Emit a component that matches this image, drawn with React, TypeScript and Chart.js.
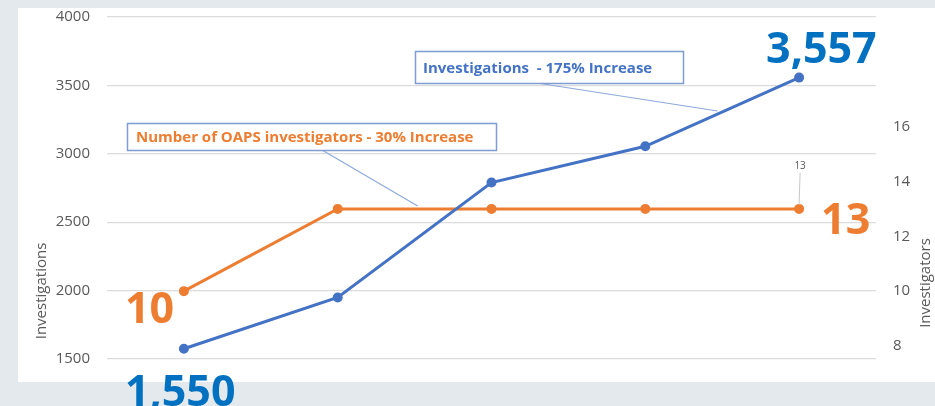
import React, { useEffect, useRef } from "react";
import { Chart, registerables } from "chart.js";

Chart.register(...registerables);

const categories = ["1", "2", "3", "4", "5"];
const investigations = [1575, 1950, 2790, 3055, 3557];
const investigators = [10, 13, 13, 13, 13];
const leftTicks = [1500, 2000, 2500, 3000, 3500, 4000];
const rightTicks = [8, 10, 12, 14, 16];
const investigationsFirstLabel = "1,550";
const investigationsLastLabel = "3,557";
const investigatorsFirstLabel = "10";
const investigatorsLastLabel = "13";
const investigationsCallout = "Investigations  - 175% Increase";
const investigatorsCallout = "Number of OAPS investigators - 30% Increase";
const leftTitle = "Investigations";
const rightTitle = "Investigators";

const BLUE = "#4472C4";
const ORANGE = "#ED7D31";
const BIG_BLUE = "#0070C0";
const GRAY_TEXT = "#595959";
const FONT = "'Open Sans', 'Noto Sans', sans-serif";

export default function App() {
  const ref = useRef<HTMLCanvasElement | null>(null);

  useEffect(() => {
    document.body.style.margin = "0";
    const canvas = ref.current;
    if (!canvas) return;

    const decor = {
      id: "decor",
      beforeDraw(chart: any) {
        const ctx = chart.ctx;
        ctx.save();
        ctx.fillStyle = "#e4e9ed";
        ctx.fillRect(0, 0, chart.width, chart.height);
        ctx.fillStyle = "#ffffff";
        ctx.fillRect(18, 8, chart.width - 18, 374);
        ctx.restore();
      },
      afterDraw(chart: any) {
        const ctx = chart.ctx;
        const x = chart.scales.x;
        const y = chart.scales.y;
        const y1 = chart.scales.y1;
        const n = categories.length - 1;
        ctx.save();

        // axis titles
        ctx.fillStyle = GRAY_TEXT;
        ctx.font = `15px ${FONT}`;
        ctx.textAlign = "center";
        ctx.textBaseline = "middle";
        ctx.save();
        ctx.translate(42, 291);
        ctx.rotate(-Math.PI / 2);
        ctx.fillText(leftTitle, 0, 0);
        ctx.restore();
        ctx.save();
        ctx.translate(926, 283);
        ctx.rotate(-Math.PI / 2);
        ctx.fillText(rightTitle, 0, 0);
        ctx.restore();

        // leader lines
        const bx = x.getPixelForValue(3) + (x.getPixelForValue(4) - x.getPixelForValue(3)) * 0.47;
        const by =
          y.getPixelForValue(investigations[3]) +
          (y.getPixelForValue(investigations[4]) - y.getPixelForValue(investigations[3])) * 0.47 - 3;
        ctx.strokeStyle = "#8ea9db";
        ctx.lineWidth = 1.2;
        ctx.beginPath();
        ctx.moveTo(537, 83);
        ctx.lineTo(bx, by);
        ctx.stroke();

        const ox = x.getPixelForValue(1) + (x.getPixelForValue(2) - x.getPixelForValue(1)) * 0.52;
        const oy = y1.getPixelForValue(investigators[1]) - 3;
        ctx.beginPath();
        ctx.moveTo(322, 150);
        ctx.lineTo(ox, oy);
        ctx.stroke();

        // callout boxes
        const box = (x0: number, y0: number, w: number, h: number, text: string, color: string, tx: number, size: number) => {
          ctx.fillStyle = "#ffffff";
          ctx.fillRect(x0, y0, w, h);
          ctx.strokeStyle = "#7f9bd0";
          ctx.lineWidth = 1.5;
          ctx.strokeRect(x0, y0, w, h);
          ctx.fillStyle = color;
          ctx.font = `bold ${size}px ${FONT}`;
          ctx.textAlign = "left";
          ctx.textBaseline = "middle";
          ctx.fillText(text, tx, y0 + h / 2 + 1);
        };
        box(415.5, 51.5, 268, 32, investigationsCallout, BLUE, 423, 15);
        box(127.5, 123.5, 369, 27, investigatorsCallout, ORANGE, 136, 15);

        // small data label "13" with leader
        const lx = x.getPixelForValue(n);
        const ly = y1.getPixelForValue(investigators[n]);
        ctx.strokeStyle = "#c8c8c8";
        ctx.lineWidth = 1;
        ctx.beginPath();
        ctx.moveTo(lx + 1, ly - 36);
        ctx.lineTo(lx, ly - 4);
        ctx.stroke();
        ctx.fillStyle = GRAY_TEXT;
        ctx.font = `10px ${FONT}`;
        ctx.textAlign = "center";
        ctx.textBaseline = "alphabetic";
        ctx.fillText(String(investigators[n]), lx + 1, ly - 40);

        // big labels
        ctx.font = `bold 43px ${FONT}`;
        ctx.textAlign = "left";
        ctx.textBaseline = "alphabetic";
        const x0 = x.getPixelForValue(0);
        const xn = x.getPixelForValue(n);
        ctx.fillStyle = BIG_BLUE;
        ctx.fillText(investigationsLastLabel, xn - 33, y.getPixelForValue(investigations[n]) - 15);
        ctx.fillText(investigationsFirstLabel, x0 - 59, y.getPixelForValue(investigations[0]) + 57);
        ctx.fillStyle = ORANGE;
        ctx.fillText(investigatorsLastLabel, xn + 22, y1.getPixelForValue(investigators[n]) + 25);
        ctx.fillText(investigatorsFirstLabel, x0 - 59, y1.getPixelForValue(investigators[0]) + 32);

        ctx.restore();
      },
    };

    const chart = new Chart(canvas, {
      type: "line",
      data: {
        labels: categories,
        datasets: [
          {
            label: "Investigations",
            data: investigations,
            yAxisID: "y",
            borderColor: BLUE,
            backgroundColor: BLUE,
            borderWidth: 3,
            pointRadius: 3.5,
            pointBackgroundColor: BLUE,
            pointBorderColor: BLUE,
            tension: 0,
          },
          {
            label: "Investigators",
            data: investigators,
            yAxisID: "y1",
            borderColor: ORANGE,
            backgroundColor: ORANGE,
            borderWidth: 3,
            pointRadius: 3.5,
            pointBackgroundColor: ORANGE,
            pointBorderColor: ORANGE,
            tension: 0,
          },
        ],
      },
      options: {
        animation: false,
        responsive: false,
        devicePixelRatio: 1,
        layout: { padding: { left: 0, right: 0, top: 17, bottom: 47 } },
        plugins: { legend: { display: false }, tooltip: { enabled: false } },
        scales: {
          x: { type: "category", display: false, offset: true },
          y: {
            position: "left",
            min: leftTicks[0],
            max: leftTicks[leftTicks.length - 1],
            afterBuildTicks: (s: any) => {
              s.ticks = leftTicks.map((v) => ({ value: v }));
            },
            afterFit: (s: any) => {
              s.width = 107;
              s.paddingTop = 9;
              s.paddingBottom = 9;
            },
            ticks: {
              color: GRAY_TEXT,
              font: { family: FONT, size: 15 },
              padding: 17,
              callback: (v: any) => String(v),
            },
            grid: { color: "#dcdcdc", lineWidth: 1.2, drawTicks: false },
            border: { display: false },
          },
          y1: {
            position: "right",
            min: 7.525,
            max: 20,
            afterBuildTicks: (s: any) => {
              s.ticks = rightTicks.map((v) => ({ value: v }));
            },
            afterFit: (s: any) => {
              s.width = 59;
              s.paddingTop = 9;
              s.paddingBottom = 9;
            },
            ticks: {
              color: GRAY_TEXT,
              font: { family: FONT, size: 15 },
              padding: 17,
              callback: (v: any) => String(v),
            },
            grid: { display: false, drawTicks: false },
            border: { display: false },
          },
        },
      },
      plugins: [decor],
    } as any);

    return () => chart.destroy();
  }, []);

  return (
    <div style={{ width: 935, height: 406 }}>
      <canvas ref={ref} width={935} height={406} style={{ display: "block" }} />
    </div>
  );
}
